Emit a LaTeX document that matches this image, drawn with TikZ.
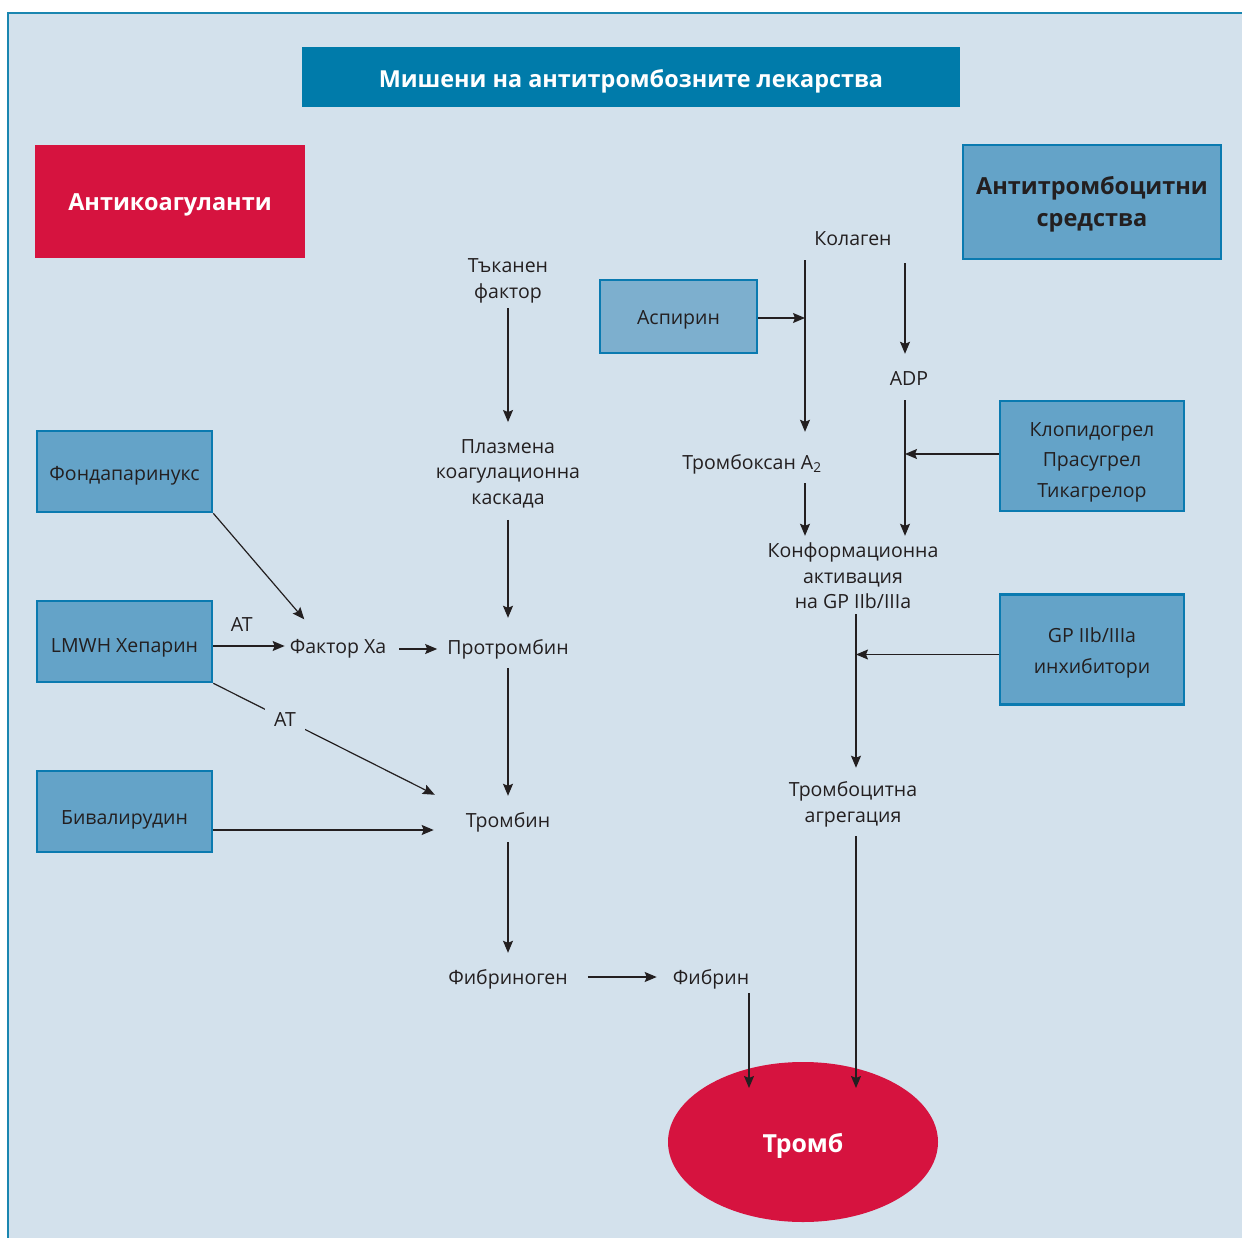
\documentclass[tikz,border=0pt]{standalone}
\usepackage{fontspec}
\setmainfont{Open Sans}
\usetikzlibrary{arrows.meta,positioning,calc,shapes.geometric}
\definecolor{bgblue}{HTML}{D3E1EC}
\definecolor{frameblue}{HTML}{1A86B0}
\definecolor{titleblue}{HTML}{007BAA}
\definecolor{clotred}{HTML}{D6133F}
\definecolor{drugblue}{HTML}{64A3C8}
\definecolor{aspblue}{HTML}{7DAFCE}
\definecolor{drugline}{HTML}{0A7AB0}
\definecolor{inkgray}{HTML}{231F20}
% raise the first line of a box so the text sits lower
\newcommand{\toph}[1]{\rule{0pt}{#1}}

\begin{document}
\begin{tikzpicture}[x=1pt,y=-1pt,
  font=\fontsize{19.5}{25.5}\selectfont,
  drug/.style={draw=drugline,line width=2.5pt,fill=drugblue,text=inkgray,minimum width=175pt,minimum height=81pt,align=center,inner sep=0pt},
  lbl/.style={align=center,inner sep=5pt,text=inkgray},
  one/.style={text height=14pt,text depth=0pt},
  hdr/.style={font=\fontsize{23.5}{32}\selectfont\bfseries,align=center},
  arr/.style={-{Stealth[length=12pt,width=10pt,inset=2pt]},line width=1.2pt,draw=inkgray,shorten >=12pt,shorten <=9pt},
  >=Stealth]
\useasboundingbox (0,0) rectangle (1242,1238);
\fill[white] (0,0) rectangle (1242,1238);
\draw[frameblue,line width=2.5pt,fill=bgblue] (8,13) rectangle (1270,1270);

% headers
\node[fill=titleblue,text=white,minimum width=658pt,minimum height=60pt,text height=20.8pt,text depth=0pt,font=\fontsize{23.4}{28}\selectfont\bfseries] (title) at (631,77) {Мишени на антитромбозните лекарства};
\node[hdr,fill=clotred,text=white,minimum width=270pt,minimum height=113pt,text height=18.8pt,text depth=0pt] (anticoag) at (170,201.5) {Антикоагуланти};
\node[drug,hdr,text=inkgray,minimum width=258pt,minimum height=114pt] (antiplt) at (1092,202) {\toph{22.4pt}Антитромбоцитни\\средства};

% drugs
\node[drug,fill=aspblue,minimum width=157pt,minimum height=73pt,text height=17pt,text depth=0pt] (asp) at (678.5,316.5) {Аспирин};
\node[drug,text height=18pt,text depth=0pt] (fonda) at (124.5,471.5) {Фондапаринукс};
\node[drug,text height=22pt,text depth=0pt] (lmwh) at (124.5,641.5) {LMWH Хепарин};
\node[drug,text height=25pt,text depth=0pt] (bival) at (124.5,811.5) {Бивалирудин};
\node[drug,minimum width=184pt,minimum height=110pt,font=\fontsize{19.5}{30.5}\selectfont] (p2y) at (1092,456) {\toph{26pt}Клопидогрел\\Прасугрел\\Тикагрелор};
\node[drug,minimum width=184pt,minimum height=110pt,font=\fontsize{19.5}{31}\selectfont] (gpi) at (1092,649.5) {\toph{21.7pt}GP IIb/IIIa\\инхибитори};

% coagulation
\node[lbl] (tf) at (508,281) {Тъканен\\фактор};
\node[lbl] (pcc) at (508,473.5) {Плазмена\\коагулационна\\каскада};
\node[lbl,one] (pro) at (508,647) {Протромбин};
\node[lbl,one] (thr) at (508,820) {Тромбин};
\node[lbl,one] (fbg) at (508,977) {Фибриноген};
\node[lbl,one] (fbn) at (711,977) {Фибрин};
\node[lbl,one] (fxa) at (338,646) {Фактор Xa};

% platelets
\node[lbl,one] (kol) at (853,239) {Колаген};
\node[lbl,one] (adp) at (909,378) {ADP};
\node[lbl,one] (txa) at (752,462) {Тромбоксан A\textsubscript{2}};
\node[lbl] (conf) at (853,576) {Конформационна\\активация\\на GP IIb/IIIa};
\node[lbl] (agg) at (853,804.5) {Тромбоцитна\\агрегация};

\node[ellipse,fill=clotred,text=white,minimum width=270pt,minimum height=160pt,inner sep=0pt,text height=21.8pt,text depth=0pt,font=\fontsize{24.9}{28}\selectfont\bfseries] (clot) at (803,1142) {Тромб};

\coordinate (colTx) at (805,0);
\coordinate (colAdp) at (905,0);
\coordinate (colAgg) at (856,0);
\coordinate (fbnIn) at ($(clot.center)+(-54,-54)$);
\coordinate (aggIn) at ($(clot.center)+(53,-54)$);

\draw[arr,shorten <=0pt] (tf) -- (pcc);
\draw[arr,shorten <=7pt,shorten >=17pt] (pcc) -- (pro);
\draw[arr] (pro) -- (thr);
\draw[arr,shorten <=10pt] (thr) -- (fbg);
\draw[arr,shorten <=15pt,shorten >=11pt] (fbg) -- (fbn);
\draw[arr,shorten <=4pt,shorten >=0pt] (fbn.south -| fbnIn) -- (fbnIn);
\draw[arr,shorten <=4pt,shorten >=0pt] (agg.south -| aggIn) -- (aggIn);

\draw[arr,shorten <=0pt,shorten >=19pt] (fonda.south east) -- ($(fxa.north west)!0.3!(fxa.north east)$);
\draw[arr,shorten <=0pt,shorten >=0pt] (lmwh.east |- fxa.west) -- node[lbl,one,above=9pt,pos=0.4] (at1) {AT} (fxa.west);
\draw[arr,shorten <=8pt,shorten >=5pt] ([yshift=-3pt]fxa.east) -- ([yshift=-3pt]fxa.east -| pro.west);
\draw[arr,shorten <=0pt,shorten >=29pt] (lmwh.south east) -- node[lbl,one,fill=bgblue,inner sep=9pt,pos=0.29] (at2) {AT} (thr.north west);
\draw[arr,shorten <=0pt,shorten >=27pt] ([yshift=-18.5pt]bival.east) -- ([yshift=-18.5pt]bival.east -| thr.west);

\draw[arr,shorten >=18pt] (kol.south -| colTx) -- (txa.north -| colTx);
\draw[arr,shorten <=0pt,shorten >=0pt] ([yshift=-1.5pt]asp.east) -- ([yshift=-1.5pt]asp.east -| colTx);
\draw[arr,shorten <=12pt] (kol.south -| colAdp) -- (adp.north -| colAdp);
\draw[arr,shorten <=10pt,shorten >=2pt] (adp.south -| colAdp) -- (conf.north -| colAdp);
\draw[arr,shorten >=2pt] (txa.south -| colTx) -- (conf.north -| colTx);
\draw[arr,shorten <=0pt,shorten >=0pt] ([yshift=2pt]p2y.west) -- ([yshift=2pt]p2y.west -| colAdp);
\draw[arr,shorten <=0pt,shorten >=9pt] (conf.south -| colAgg) -- (agg.north -| colAgg);
\draw[arr,shorten <=0pt,shorten >=0pt] ([yshift=-5pt]gpi.west) -- ([yshift=-5pt]gpi.west -| colAgg);
\end{tikzpicture}
\end{document}
